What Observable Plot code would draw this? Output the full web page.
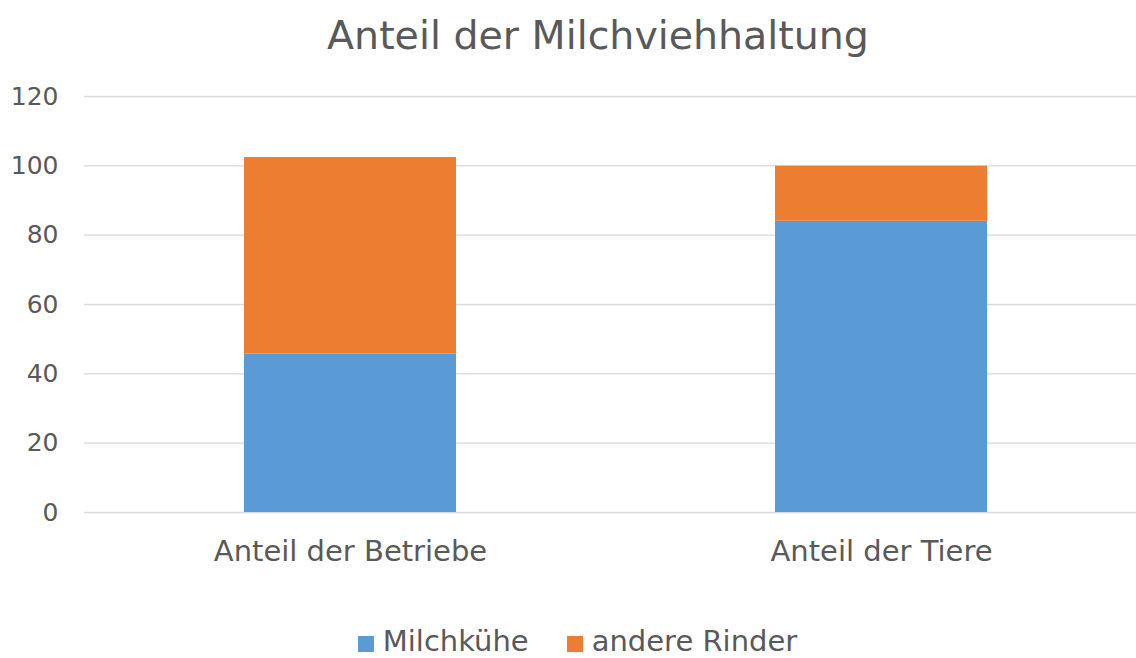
<!DOCTYPE html>
<html><head><meta charset="utf-8">
<script src="https://cdn.jsdelivr.net/npm/d3@7"></script>
<script src="https://cdn.jsdelivr.net/npm/@observablehq/plot@0.6"></script>
<style>
body{margin:0;background:#fff;font-family:"DejaVu Sans",sans-serif;color:#595959;}
#wrap{position:relative;width:1136px;height:658px;overflow:hidden;background:#fff;}
#title{position:absolute;left:0;width:1196px;top:5px;height:60px;line-height:60px;text-align:center;font-size:39.5px;white-space:nowrap;}
#chart{position:absolute;left:0;top:60px;}
#legend{position:absolute;left:0;width:1155px;top:624px;height:34px;line-height:34px;display:flex;justify-content:center;align-items:center;font-size:29px;white-space:nowrap;}
.item{display:flex;align-items:center;margin:0 19px;}
.sw{width:16px;height:16px;margin-right:9px;position:relative;top:3px;}
</style>
</head><body>
<div id="wrap">
  <div id="title">Anteil der Milchviehhaltung</div>
  <div id="chart"></div>
  <div id="legend"></div>
</div>
<script>
const categories = ["Anteil der Betriebe", "Anteil der Tiere"];
const series = ["Milchkühe", "andere Rinder"];
const milchkuehe = [45.7, 84.0];
const andereRinder = [56.7, 15.9];
const yTicks = [0, 20, 40, 60, 80, 100, 120];
const colors = ["#5B9BD5", "#ED7D31"];

const data = [];
categories.forEach((c, i) => data.push({cat: c, series: series[0], value: milchkuehe[i]}));
categories.forEach((c, i) => data.push({cat: c, series: series[1], value: andereRinder[i]}));

const chart = Plot.plot({
  width: 1136,
  height: 530,
  marginTop: 36,
  marginLeft: 84,
  marginRight: 0,
  marginBottom: 78,
  style: {fontFamily: "'DejaVu Sans', sans-serif", color: "#595959", background: "transparent"},
  x: {domain: categories, range: [84, 1147], paddingInner: 0.6, paddingOuter: 0.3, label: null},
  y: {domain: [0, 120], label: null},
  color: {domain: series, range: colors},
  marks: [
    Plot.gridY(yTicks, {stroke: "#d9d9d9", strokeOpacity: 1, strokeWidth: 1.4}),
    Plot.barY(data, {x: "cat", y: "value", fill: "series"}),
    Plot.axisY(yTicks, {tickSize: 0, tickPadding: 26, fontSize: 25, label: null}),
    Plot.axisX({tickSize: 0, tickPadding: 27.7, fontSize: 29, label: null})
  ]
});
document.getElementById("chart").appendChild(chart);

const legend = document.getElementById("legend");
series.forEach((s, i) => {
  const it = document.createElement("div");
  it.className = "item";
  const sw = document.createElement("div");
  sw.className = "sw";
  sw.style.background = colors[i];
  const t = document.createElement("span");
  t.textContent = s;
  it.appendChild(sw); it.appendChild(t);
  legend.appendChild(it);
});
</script>
</body></html>
